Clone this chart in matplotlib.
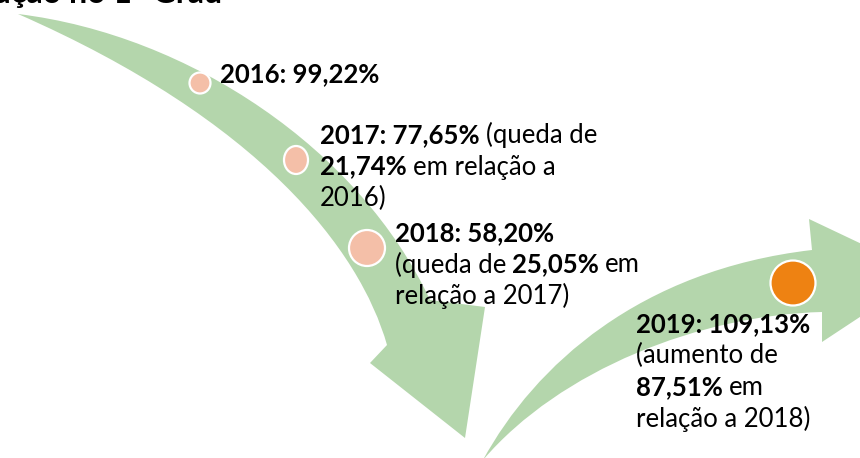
import matplotlib
matplotlib.use("Agg")
import matplotlib.pyplot as plt
from matplotlib.path import Path
from matplotlib.patches import PathPatch, Ellipse

# data
years = ["2016", "2017", "2018", "2019"]
rates = ["99,22%", "77,65%", "58,20%", "109,13%"]
change_words = [None, "queda", "queda", "aumento"]
changes = [None, "21,74%", "25,05%", "87,51%"]
title = "Evolução no 1º Grau"

# colours
green = "#B4D6AC"
dot_light = "#F4BFA8"
dot_strong = "#EE8212"

plt.rcParams["font.family"] = ["Lato", "DejaVu Sans"]
FS = 18.5

fig = plt.figure(figsize=(8.6, 4.58), dpi=100)
ax = fig.add_axes([0, 0, 1, 1])
ax.set_xlim(0, 860)
ax.set_ylim(458, 0)
ax.axis("off")

M, C, L, Z = Path.MOVETO, Path.CURVE4, Path.LINETO, Path.CLOSEPOLY

# falling arrow (pixel layout)
down = [(18, 14), (190, 35), (360, 150), (430, 300),
        (485, 307), (465, 438), (370, 363), (387, 345),
        (360, 250), (260, 120), (18, 14), (18, 14)]
down_codes = [M, C, C, C, L, L, L, L, C, C, C, Z]
ax.add_patch(PathPatch(Path(down, down_codes), fc=green, ec="none", zorder=1))

# rising arrow
up = [(483, 460), (535, 365), (640, 270), (812, 250),
      (809, 219), (925, 274), (822, 342), (822, 312),
      (700, 315), (560, 370), (483, 460), (483, 460)]
up_codes = [M, C, C, C, L, L, L, L, C, C, C, Z]
ax.add_patch(PathPatch(Path(up, up_codes), fc=green, ec="none", zorder=1))

# dots
dot_pos = [(200, 83), (296, 160), (367, 248), (793, 283)]
dot_size = [(21, 21), (24, 28), (36, 36), (45, 45)]
dot_col = [dot_light, dot_light, dot_light, dot_strong]
for (x, y), (w, h), c in zip(dot_pos, dot_size, dot_col):
    ax.add_patch(Ellipse((x, y), w, h, fc=c, ec="white", lw=1.6, zorder=3))

# title (cut off at the top, as in the source slide)
ax.text(222, 3.5, title, fontsize=23, fontweight="bold", ha="right",
        va="baseline", zorder=4)

# text blocks: list of lines, each line a list of (text, bold)
blocks = [
    [[(f"{years[0]}: {rates[0]}", True)]],
    [[(f"{years[1]}: {rates[1]}", True), (f"({change_words[1]} de", False)],
     [(changes[1], True), ("em relação a", False)],
     [(f"{years[0]})", False)]],
    [[(f"{years[2]}: {rates[2]}", True)],
     [(f"({change_words[2]} de", False), (changes[2], True), ("em", False)],
     [(f"relação a {years[1]})", False)]],
    [[(f"{years[3]}: {rates[3]}", True)],
     [(f"({change_words[3]} de", False)],
     [(changes[3], True), ("em", False)],
     [(f"relação a {years[2]})", False)]],
]
block_xy = [(220, 82), (320, 143), (395, 241), (636, 332)]
line_step = 31.5
gap = 6

fig.canvas.draw()
renderer = fig.canvas.get_renderer()
for lines, (x0, y0) in zip(blocks, block_xy):
    for i, runs in enumerate(lines):
        x = x0
        y = y0 + i * line_step
        for s, b in runs:
            t = ax.text(x, y, s, fontsize=FS, fontweight="bold" if b else "normal",
                        ha="left", va="baseline", color="black", zorder=4)
            bb = t.get_window_extent(renderer)
            x += bb.width + gap

fig.savefig("out.png", dpi=100)
